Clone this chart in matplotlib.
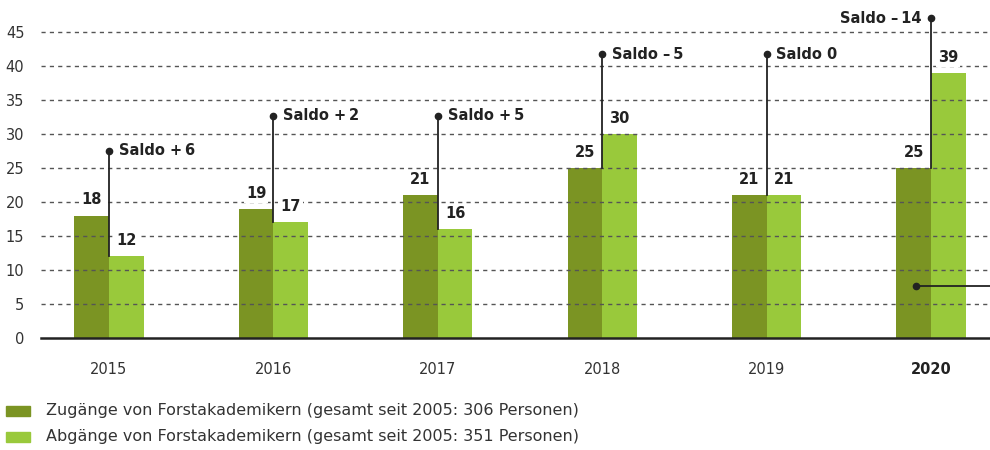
import matplotlib.pyplot as plt
from matplotlib.patches import Rectangle

years = ['2015', '2016', '2017', '2018', '2019', '2020']
zugaenge = [18, 19, 21, 25, 21, 25]
abgaenge = [12, 17, 16, 30, 21, 39]
# height of the dot at the top of each saldo leader line
saldo_top = [27.5, 32.7, 32.7, 41.7, 41.7, 47.0]
legend_labels = ['Zugänge von Forstakademikern (gesamt seit 2005: 306 Personen)',
                 'Abgänge von Forstakademikern (gesamt seit 2005: 351 Personen)']

dark = '#7b9423'
light = '#99c93b'
ink = '#222222'

plt.rcParams['font.family'] = ['DejaVu Sans']

fig = plt.figure(figsize=(9.9, 4.5), dpi=100)
ax = fig.add_axes([0.0414, 0.249, 0.9586, 0.7253])

w = 0.21
x = list(range(len(years)))
ax.bar([i - w / 2 for i in x], zugaenge, width=w, color=dark, zorder=1)
ax.bar([i + w / 2 for i in x], abgaenge, width=w, color=light, zorder=1)

# dashed grid drawn over the bars
for v in range(5, 50, 5):
    ax.axhline(v, color='#555555', lw=1.0, ls=(0, (3, 3)), zorder=2)
ax.axhline(0, color=ink, lw=1.8, zorder=3, clip_on=False)

box = dict(facecolor='white', edgecolor='none', pad=1.5)
for i in x:
    ax.text(i - w / 2, zugaenge[i] + 1.2, str(zugaenge[i]), ha='center', va='bottom',
            fontsize=10.5, fontweight='bold', color=ink, bbox=box, zorder=4)
    ax.text(i + w / 2, abgaenge[i] + 1.2, str(abgaenge[i]), ha='center', va='bottom',
            fontsize=10.5, fontweight='bold', color=ink, bbox=box, zorder=4)

    # saldo leader line from the lower bar up to the dot
    saldo = zugaenge[i] - abgaenge[i]
    low = min(zugaenge[i], abgaenge[i])
    ax.plot([i, i], [low, saldo_top[i]], color=ink, lw=1.3, zorder=5, clip_on=False)
    ax.plot(i, saldo_top[i], 'o', color=ink, ms=4.5, zorder=6, clip_on=False)
    if saldo > 0:
        s = 'Saldo +\u2009%d' % saldo
    elif saldo < 0:
        s = 'Saldo \u2013\u2009%d' % -saldo
    else:
        s = 'Saldo 0'
    if i == len(years) - 1:
        ax.text(i - 0.06, saldo_top[i], s, ha='right', va='center', fontsize=10.5,
                fontweight='bold', color=ink, bbox=box, zorder=4)
    else:
        ax.text(i + 0.06, saldo_top[i], s, ha='left', va='center', fontsize=10.5,
                fontweight='bold', color=ink, bbox=box, zorder=4)

# pointer leaving the chart on the right
ax.plot([5 - 0.09, 5.36], [7.6, 7.6], color=ink, lw=1.3, zorder=5, clip_on=False)
ax.plot(5 - 0.09, 7.6, 'o', color=ink, ms=4.5, zorder=6)

ax.set_xlim(-0.4136, 5.359)
ax.set_ylim(0, 48)
ax.set_yticks(range(0, 50, 5))
ax.set_yticklabels([str(v) for v in range(0, 50, 5)], fontsize=10.5, color='#333333')
ax.tick_params(axis='y', length=0, pad=12)
ax.set_xticks(x)
ax.set_xticklabels(years, fontsize=10.5, color='#333333')
ax.get_xticklabels()[-1].set_fontweight('bold')
ax.get_xticklabels()[-1].set_color(ink)
ax.tick_params(axis='x', length=0, pad=17)
for sp in ax.spines.values():
    sp.set_visible(False)

# legend below the chart
for k, (lab, col) in enumerate(zip(legend_labels, [dark, light])):
    yy = 1 - (411 + 26 * k) / 450
    fig.patches.append(Rectangle((6 / 990, yy - 5 / 450), 24 / 990, 10 / 450,
                                 transform=fig.transFigure, color=col))
    fig.text(46 / 990, yy, lab, ha='left', va='center', fontsize=11.5, color='#333333')

fig.savefig('out.png', dpi=100)
